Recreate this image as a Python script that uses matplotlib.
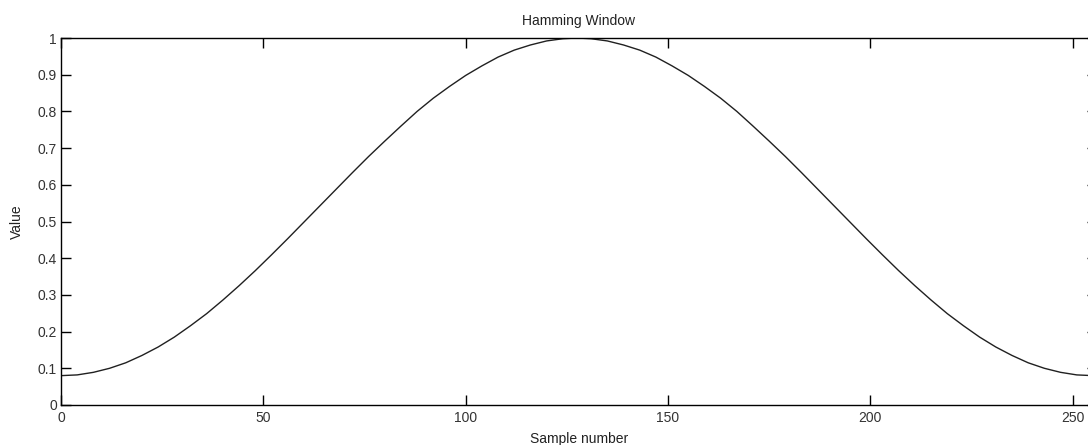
import matplotlib
matplotlib.use("Agg")
import matplotlib.pyplot as plt

# values: left half (every 4 samples), peak, right half
left_n = [0, 4, 8, 12, 16, 20, 24, 28, 32, 36, 40, 44, 48, 52, 56, 60,
          64, 68, 72, 76, 80, 84, 88, 92, 96, 100, 104, 108, 112, 116, 120, 124]
left_v = [0.080, 0.082, 0.089, 0.100, 0.115, 0.135, 0.158, 0.185, 0.216, 0.249,
          0.286, 0.325, 0.366, 0.409, 0.453, 0.498, 0.543, 0.588, 0.633, 0.677,
          0.719, 0.760, 0.800, 0.836, 0.868, 0.898, 0.924, 0.948, 0.967, 0.981,
          0.992, 0.998]
peak_n = [127.5]
peak_v = [1.000]
right_n = [131, 135, 139, 143, 147, 151, 155, 159, 163, 167, 171, 175, 179, 183,
           187, 191, 195, 199, 203, 207, 211, 215, 219, 223, 227, 231, 235, 239,
           243, 247, 251, 255]
right_v = [0.998, 0.992, 0.981, 0.967, 0.948, 0.924, 0.898, 0.868, 0.836, 0.800,
           0.760, 0.719, 0.677, 0.633, 0.588, 0.543, 0.498, 0.453, 0.409, 0.366,
           0.325, 0.286, 0.249, 0.216, 0.185, 0.158, 0.135, 0.115, 0.100, 0.089,
           0.082, 0.080]

sample_n = left_n + peak_n + right_n
value = left_v + peak_v + right_v

xticks = [0, 50, 100, 150, 200, 250]
yticks = [0, 0.1, 0.2, 0.3, 0.4, 0.5, 0.6, 0.7, 0.8, 0.9, 1]
ylabels = ["0", "0.1", "0.2", "0.3", "0.4", "0.5", "0.6", "0.7", "0.8", "0.9", "1"]

plt.rcParams['font.family'] = ['Liberation Sans', 'DejaVu Sans']

W, H = 1088, 445
fig = plt.figure(figsize=(W / 100, H / 100), dpi=100)
# axes runs past the right edge of the picture, like the reference crop
ax = fig.add_axes([61 / W, (H - 405) / H, (1097 - 61) / W, (405 - 38) / H])

ax.plot(sample_n, value, color='#202020', linewidth=1.0)

ax.set_xlim(0, 256)
ax.set_ylim(0, 1)
ax.set_xticks(xticks)
ax.set_yticks(yticks)
ax.set_yticklabels(ylabels)
ax.tick_params(direction='in', length=7.5, width=1, top=True, right=True,
               labelsize=10, colors='black', labelcolor='#333333')
ax.tick_params(axis='x', pad=4)
ax.tick_params(axis='y', pad=3)
for s in ax.spines.values():
    s.set_color('black')
    s.set_linewidth(1)

ax.set_title('Hamming Window', fontsize=10, color='#222222', pad=9.5)
ax.set_xlabel('Sample number', fontsize=10, color='#222222', labelpad=5)
ax.set_ylabel('Value', fontsize=10, color='#222222', labelpad=10)

fig.savefig('out.png', dpi=100)
